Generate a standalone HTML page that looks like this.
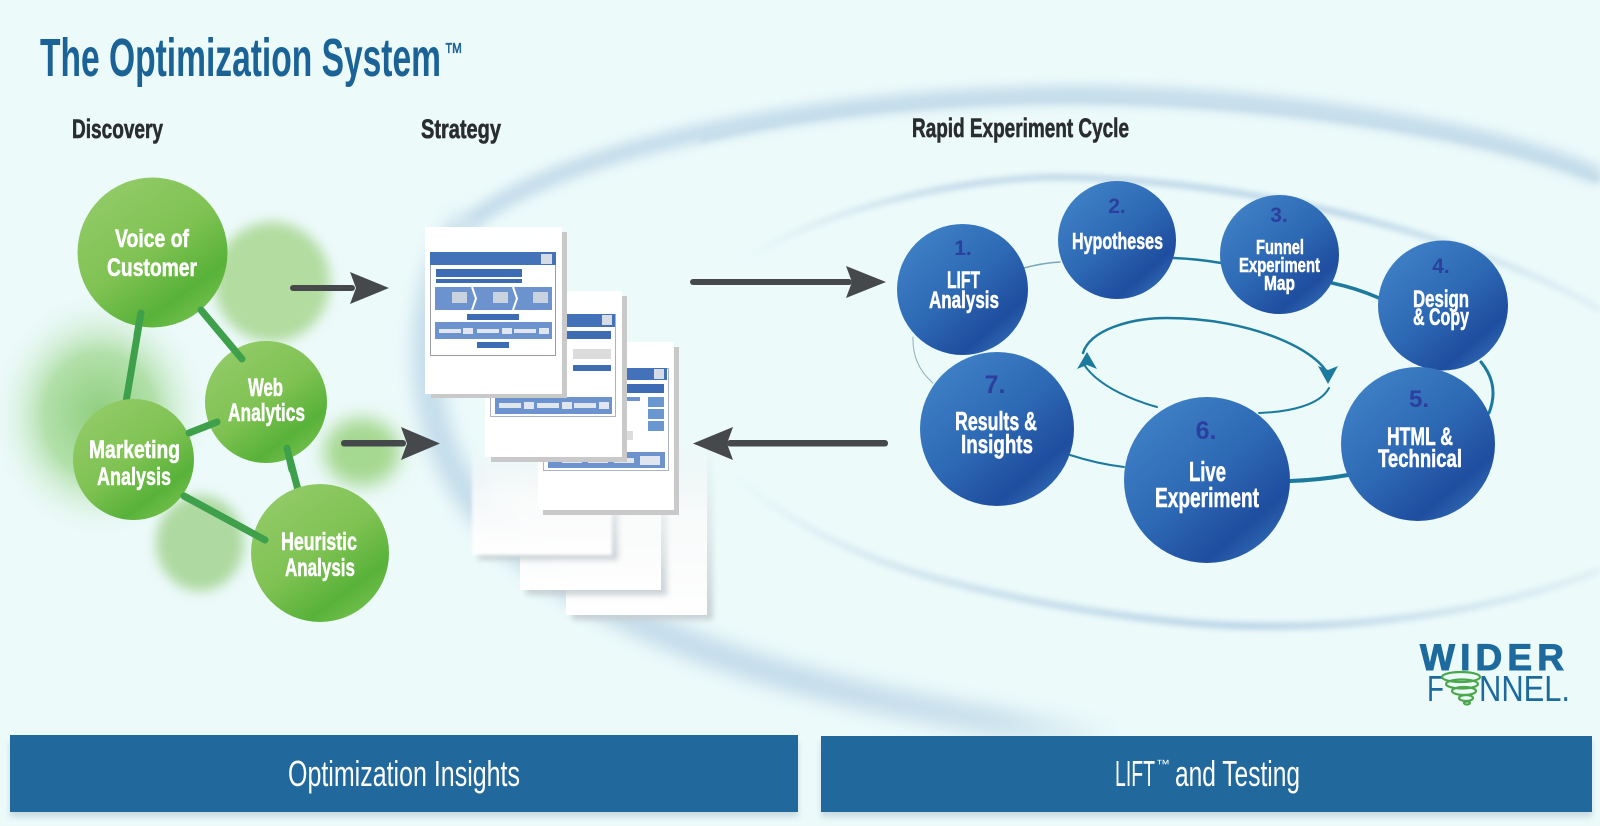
<!DOCTYPE html>
<html><head><meta charset="utf-8"><style>
html,body{margin:0;padding:0;background:#ecfafa;width:1600px;height:826px;overflow:hidden}
svg{display:block}
text{font-family:"Liberation Sans",Arial,sans-serif}
.w{fill:#fff;font-weight:bold;stroke:#fff;stroke-width:.55}
.n{fill:#2b3f9f;font-weight:bold;text-anchor:middle}
.h{fill:#2a2d30;font-weight:bold;font-size:27px;stroke:#2a2d30;stroke-width:.6}
</style></head><body>
<svg width="1600" height="826" viewBox="0 0 1600 826" xmlns="http://www.w3.org/2000/svg">
<defs>
<filter id="b1" x="-20%" y="-20%" width="140%" height="140%"><feGaussianBlur stdDeviation="1.500"/></filter>
<filter id="b3" x="-50%" y="-50%" width="200%" height="200%"><feGaussianBlur stdDeviation="3"/></filter>
<filter id="b6" x="-50%" y="-50%" width="200%" height="200%"><feGaussianBlur stdDeviation="6"/></filter>
<filter id="b9" x="-50%" y="-50%" width="200%" height="200%"><feGaussianBlur stdDeviation="9"/></filter>
<linearGradient id="g" x1=".15" y1=".05" x2=".8" y2=".95"><stop offset="0" stop-color="#93cb68"/><stop offset=".5" stop-color="#7fc253"/><stop offset=".82" stop-color="#58b239"/><stop offset="1" stop-color="#72bf4c"/></linearGradient>
<linearGradient id="bl" x1=".12" y1=".1" x2=".82" y2=".92"><stop offset="0" stop-color="#3f80c6"/><stop offset=".5" stop-color="#2d69b4"/><stop offset=".85" stop-color="#1f4d9f"/><stop offset="1" stop-color="#2d66b0"/></linearGradient>
<radialGradient id="lb"><stop offset="0" stop-color="#8fce7e"/><stop offset=".5" stop-color="#b2e0aa"/><stop offset="1" stop-color="#ecfafa" stop-opacity="0"/></radialGradient>
<linearGradient id="fadeW" x1="0" y1="0" x2="0" y2="1"><stop offset="0" stop-color="#fff" stop-opacity="0"/><stop offset=".45" stop-color="#fff" stop-opacity=".8"/><stop offset="1" stop-color="#fff"/></linearGradient>
<linearGradient id="fadeS" x1="0" y1="0" x2="0" y2="1"><stop offset="0" stop-color="#c4cdd0" stop-opacity="0"/><stop offset=".5" stop-color="#c4cdd0" stop-opacity=".4"/><stop offset="1" stop-color="#c4cdd0" stop-opacity=".9"/></linearGradient>
<linearGradient id="sw1" gradientUnits="userSpaceOnUse" x1="800" y1="0" x2="1120" y2="0"><stop offset="0" stop-color="#c3dbea"/><stop offset=".6" stop-color="#c9e0ec"/><stop offset="1" stop-color="#c9e0ec" stop-opacity="0"/></linearGradient>
<linearGradient id="sw2" gradientUnits="userSpaceOnUse" x1="740" y1="0" x2="1600" y2="0"><stop offset="0" stop-color="#c0d8e8" stop-opacity="0"/><stop offset=".25" stop-color="#c0d8e8"/><stop offset=".7" stop-color="#b8d3e6"/><stop offset="1" stop-color="#c0d8e8" stop-opacity=".3"/></linearGradient>
<linearGradient id="sw3" gradientUnits="userSpaceOnUse" x1="730" y1="0" x2="1600" y2="0"><stop offset="0" stop-color="#c0d8e8" stop-opacity="0"/><stop offset=".3" stop-color="#c8dfeb"/><stop offset=".6" stop-color="#b8d3e6"/><stop offset="1" stop-color="#c0d8e8" stop-opacity=".3"/></linearGradient>
</defs>

<rect width="1600" height="826" fill="#ecfafa"/>
<!-- swooshes -->
<path d="M469 223C420 270 410 400 459 480C510 570 650 640 800 680C880 702 1000 725 1120 738" fill="none" stroke="url(#sw1)" stroke-width="28" filter="url(#b9)"/>
<path d="M1600 177C1500 130 1250 90 1040 95C800 100 560 150 469 223" fill="none" stroke="#c3dbea" stroke-width="17" filter="url(#b6)"/>
<path d="M1600 180C1500 135 1250 97 1040 100C900 103 800 115 700 140" fill="none" stroke="#c3dbe9" stroke-width="5" filter="url(#b3)"/>
<path d="M1600 310C1520 260 1300 180 1055 177C930 180 800 220 740 263" fill="none" stroke="url(#sw2)" stroke-width="6" filter="url(#b3)"/>
<path d="M730 470C780 520 860 560 953 583C1060 610 1180 626 1259 626C1370 628 1500 610 1600 570" fill="none" stroke="url(#sw3)" stroke-width="7" filter="url(#b3)"/>

<!-- green blobs -->
<ellipse cx="100" cy="415" rx="112" ry="125" fill="url(#lb)"/>
<ellipse cx="272" cy="282" rx="58" ry="60" fill="#b2dca0" filter="url(#b6)"/>
<ellipse cx="200" cy="543" rx="44" ry="48" fill="#aed9a0" filter="url(#b6)"/>
<ellipse cx="362" cy="452" rx="38" ry="34" fill="#a5d890" filter="url(#b9)"/>

<!-- green lines -->
<g stroke="#3fa04c" stroke-width="7" stroke-linecap="round" fill="none">
<line x1="141" y1="313" x2="126" y2="402"/>
<line x1="201" y1="310" x2="242" y2="359"/>
<line x1="189" y1="433" x2="217" y2="422"/>
<line x1="287" y1="448" x2="298" y2="490"/>
<line x1="184" y1="496" x2="265" y2="540"/>
</g>
<circle cx="152.500" cy="252.500" r="75" fill="url(#g)"/>
<circle cx="266" cy="402" r="61" fill="url(#g)"/>
<circle cx="133.500" cy="459.500" r="60.500" fill="url(#g)"/>
<circle cx="320" cy="553" r="69" fill="url(#g)"/>
<g stroke="#3fa04c" stroke-width="7" stroke-linecap="round" fill="none">
<line x1="141" y1="313" x2="137" y2="335"/>
<line x1="201" y1="310" x2="242" y2="359"/>
<line x1="189" y1="433" x2="217" y2="422"/>
<line x1="287" y1="448" x2="292" y2="470"/>
<line x1="184" y1="496" x2="265" y2="540"/>
</g>

<!-- ghost documents -->
<g>
<rect x="572" y="440" width="141" height="180" fill="url(#fadeS)" filter="url(#b3)"/>
<rect x="566" y="435" width="141" height="180" fill="url(#fadeW)"/>
<rect x="526" y="470" width="141" height="125" fill="url(#fadeS)" filter="url(#b3)"/>
<rect x="520" y="465" width="141" height="125" fill="url(#fadeW)"/>
<rect x="478" y="450" width="140" height="110" fill="url(#fadeS)" filter="url(#b3)"/>
<rect x="472" y="445" width="140" height="110" fill="url(#fadeW)" filter="url(#b1)"/>
</g>

<!-- doc 3 -->
<rect x="543" y="347" width="136" height="168" fill="#c9c9c9"/>
<rect x="538" y="342" width="136" height="168" fill="#fff"/>
<rect x="543.500" y="368.500" width="125" height="102" fill="none" stroke="#aab4c4"/>
<rect x="545" y="368" width="122" height="12" fill="#4472b8"/>
<rect x="654" y="369" width="10" height="10" fill="#d5dce6"/>
<rect x="550" y="384" width="114" height="9" fill="#3d6cb4"/>
<rect x="550" y="397" width="90" height="4" fill="#6d93cf"/>
<rect x="648" y="397" width="16" height="10" fill="#6a97d0"/>
<rect x="648" y="409" width="16" height="10" fill="#6a97d0"/>
<rect x="648" y="421" width="16" height="10" fill="#6a97d0"/>
<rect x="600" y="421" width="25" height="6" fill="#3d6cb4"/>
<rect x="590" y="431" width="43" height="9" fill="#ddd"/>
<rect x="548" y="452" width="117" height="16" fill="#6d93cf"/>
<rect x="640" y="456" width="20" height="9" fill="#dfe6ef"/><rect x="614" y="458" width="20" height="5" fill="#dfe6ef"/><rect x="588" y="458" width="20" height="5" fill="#dfe6ef"/><rect x="562" y="458" width="20" height="5" fill="#dfe6ef"/>

<!-- doc 2 -->
<rect x="491" y="296" width="136" height="166" fill="#c9c9c9"/>
<rect x="485" y="291" width="137" height="166" fill="#fff"/>
<rect x="490.500" y="314.500" width="125" height="102" fill="none" stroke="#aab4c4"/>
<rect x="492" y="314" width="123" height="13" fill="#4472b8"/>
<rect x="602" y="315" width="10" height="10" fill="#d5dce6"/>
<rect x="495" y="331" width="116" height="8" fill="#3d6cb4"/>
<rect x="495" y="341" width="68" height="3" fill="#3d6cb4"/>
<rect x="573" y="349" width="38" height="10" fill="#dcdcdc"/>
<rect x="573" y="365" width="38" height="6" fill="#3d6cb4"/>
<rect x="550" y="360" width="10" height="15" fill="#6d93cf"/>
<rect x="495" y="397" width="117" height="17" fill="#6d93cf"/>
<rect x="499" y="403" width="22" height="5" fill="#dfe6ef"/><rect x="524" y="402" width="10" height="7" fill="#dfe6ef"/><rect x="537" y="403" width="22" height="5" fill="#dfe6ef"/><rect x="562" y="402" width="10" height="7" fill="#dfe6ef"/><rect x="574" y="403" width="22" height="5" fill="#dfe6ef"/><rect x="599" y="402" width="10" height="7" fill="#dfe6ef"/>

<!-- doc 1 -->
<rect x="431" y="232" width="136" height="166" fill="#c9c9c9"/>
<rect x="425" y="227" width="137" height="167" fill="#fff"/>
<rect x="430.500" y="252.500" width="125" height="103" fill="none" stroke="#9a9fa6"/>
<rect x="430" y="252" width="126" height="13" fill="#4472b8"/>
<rect x="541" y="254" width="11" height="10" fill="#d5dce6"/>
<rect x="436" y="269" width="86" height="8" fill="#3d6cb4"/>
<rect x="436" y="279" width="86" height="4" fill="#3d6cb4"/>
<rect x="435" y="287" width="117" height="23" fill="#6d93cf"/>
<path d="M472 287L476 298.500L472 310M513 287L517 298.500L513 310" fill="none" stroke="#fff" stroke-width="2"/>
<g fill="#c9d3e0"><rect x="452" y="292" width="15" height="11"/><rect x="493" y="292" width="15" height="11"/><rect x="533" y="292" width="15" height="11"/></g>
<rect x="467" y="314" width="52" height="6" fill="#3d6cb4"/>
<rect x="435" y="322" width="117" height="17" fill="#6d93cf"/>
<rect x="439" y="329" width="22" height="4" fill="#dfe6ef"/><rect x="463" y="328" width="10" height="6" fill="#dfe6ef"/><rect x="477" y="329" width="22" height="4" fill="#dfe6ef"/><rect x="502" y="328" width="10" height="6" fill="#dfe6ef"/><rect x="514" y="329" width="22" height="4" fill="#dfe6ef"/><rect x="539" y="328" width="10" height="6" fill="#dfe6ef"/>
<rect x="477" y="342" width="32" height="6" fill="#3d6cb4"/>

<!-- dark arrows -->
<g fill="#45494c">
<rect x="290" y="285" width="65" height="6" rx="3"/><path d="M350 272L389 288L350 304L356 288Z"/>
<rect x="341" y="440" width="65" height="6.500" rx="3"/><path d="M401 427L440 443.500L401 460L407 443.500Z"/>
<rect x="690" y="279" width="162" height="6" rx="3"/><path d="M846 266L886 282L846 298L852 282Z"/>
<rect x="727" y="440" width="161" height="6.500" rx="3"/><path d="M733 427L693 443.500L733 460L727 443.500Z"/>
</g>

<!-- cycle connectors -->
<g fill="none" stroke="#1b7a9e" stroke-linecap="round">
<path d="M1024 268Q1042 263 1060 262" stroke="#7fa6b6" stroke-width="1.500"/>
<path d="M1174 258Q1198 259 1221 263" stroke-width="2.500"/>
<path d="M1332 283Q1356 288 1379 298" stroke-width="3.500"/>
<path d="M1481 362Q1500 385 1489 413" stroke-width="3"/>
<path d="M1290 481Q1320 480 1348 475" stroke-width="4"/>
<path d="M1070 455Q1098 464 1124 467" stroke-width="2"/>
<path d="M913 337Q912 365 933 383" stroke="#8fb0bc" stroke-width="1"/>
<path d="M1083 353C1090 330 1130 318 1167 318C1250 318 1320 350 1329 377" stroke-width="2.500"/>
<path d="M1329 388C1320 405 1290 412 1259 413M1157 407C1125 398 1095 383 1083 363" stroke-width="2"/>
</g>
<path d="M1087 352L1097 369L1087 365L1077 369Z" fill="#1b7a9e"/>
<path d="M1328 384L1318 366L1328 370L1338 366Z" fill="#1b7a9e"/>

<!-- blue circles -->
<circle cx="962.500" cy="289.500" r="65.500" fill="url(#bl)"/>
<circle cx="1117" cy="240" r="59" fill="url(#bl)"/>
<circle cx="1279.500" cy="254.500" r="59.500" fill="url(#bl)"/>
<circle cx="1443" cy="305.500" r="65" fill="url(#bl)"/>
<circle cx="1418" cy="444" r="77" fill="url(#bl)"/>
<circle cx="997" cy="429" r="77" fill="url(#bl)"/>
<circle cx="1207" cy="480" r="83" fill="url(#bl)"/>

<!-- numbers -->
<text class="n" x="963" y="255" font-size="21">1.</text>
<text class="n" x="1117" y="213" font-size="21">2.</text>
<text class="n" x="1279" y="222" font-size="21">3.</text>
<text class="n" x="1441" y="273" font-size="21">4.</text>
<text class="n" x="1419" y="407" font-size="24">5.</text>
<text class="n" x="1206" y="439" font-size="25">6.</text>
<text class="n" x="995" y="393" font-size="25">7.</text>

<!-- title + headings -->
<text x="40" y="76" font-size="54" font-weight="bold" fill="#1b6296" textLength="401" lengthAdjust="spacingAndGlyphs">The Optimization System</text>
<text x="444" y="61" font-size="26" fill="#1b6296" stroke="#1b6296" stroke-width=".4" textLength="19" lengthAdjust="spacingAndGlyphs">™</text>
<text class="h" x="72" y="138" textLength="91" lengthAdjust="spacingAndGlyphs">Discovery</text>
<text class="h" x="421" y="138" textLength="80" lengthAdjust="spacingAndGlyphs">Strategy</text>
<text class="h" x="912" y="137" textLength="217" lengthAdjust="spacingAndGlyphs">Rapid Experiment Cycle</text>

<!-- green labels -->
<g font-size="25">
<text class="w" x="115" y="247" textLength="74" lengthAdjust="spacingAndGlyphs">Voice of</text>
<text class="w" x="107" y="276" textLength="90" lengthAdjust="spacingAndGlyphs">Customer</text>
<text class="w" x="248" y="396" textLength="35" lengthAdjust="spacingAndGlyphs">Web</text>
<text class="w" x="228" y="421" textLength="77" lengthAdjust="spacingAndGlyphs">Analytics</text>
<text class="w" x="89" y="458" textLength="91" lengthAdjust="spacingAndGlyphs">Marketing</text>
<text class="w" x="97" y="485" textLength="74" lengthAdjust="spacingAndGlyphs">Analysis</text>
<text class="w" x="281" y="550" textLength="76" lengthAdjust="spacingAndGlyphs">Heuristic</text>
<text class="w" x="285" y="576" textLength="70" lengthAdjust="spacingAndGlyphs">Analysis</text>
</g>

<!-- blue labels -->
<g font-size="24">
<text class="w" x="947" y="288" textLength="33" lengthAdjust="spacingAndGlyphs">LIFT</text>
<text class="w" x="929" y="308" textLength="70" lengthAdjust="spacingAndGlyphs">Analysis</text>
<text class="w" x="1072" y="249" font-size="23" textLength="91" lengthAdjust="spacingAndGlyphs">Hypotheses</text>
<text class="w" x="1256" y="254" font-size="20" textLength="48" lengthAdjust="spacingAndGlyphs">Funnel</text>
<text class="w" x="1239" y="272" font-size="20" textLength="81" lengthAdjust="spacingAndGlyphs">Experiment</text>
<text class="w" x="1264" y="290" font-size="20" textLength="31" lengthAdjust="spacingAndGlyphs">Map</text>
<text class="w" x="1413" y="307" textLength="56" lengthAdjust="spacingAndGlyphs">Design</text>
<text class="w" x="1413" y="325" textLength="56" lengthAdjust="spacingAndGlyphs">&amp; Copy</text>
<text class="w" x="1387" y="445" font-size="25" textLength="66" lengthAdjust="spacingAndGlyphs">HTML &amp;</text>
<text class="w" x="1378" y="467" font-size="25" textLength="84" lengthAdjust="spacingAndGlyphs">Technical</text>
<text class="w" x="1189" y="481" font-size="28" textLength="37" lengthAdjust="spacingAndGlyphs">Live</text>
<text class="w" x="1155" y="507" font-size="28" textLength="104" lengthAdjust="spacingAndGlyphs">Experiment</text>
<text class="w" x="955" y="430" font-size="26" textLength="82" lengthAdjust="spacingAndGlyphs">Results &amp;</text>
<text class="w" x="961" y="453" font-size="26" textLength="72" lengthAdjust="spacingAndGlyphs">Insights</text>
</g>

<!-- logo -->
<text x="1420" y="670" font-size="37" font-weight="bold" fill="#1d6a9e" stroke="#1d6a9e" stroke-width="1" textLength="144" lengthAdjust="spacing">WIDER</text>
<text x="1427" y="701" font-size="36" fill="#1d6a9e" textLength="17" lengthAdjust="spacingAndGlyphs">F</text>
<text x="1479" y="701" font-size="36" fill="#1d6a9e" textLength="91" lengthAdjust="spacingAndGlyphs">NNEL.</text>
<g fill="none" stroke="#4aa84a" stroke-width="2.200">
<ellipse cx="1461" cy="677" rx="19" ry="5"/>
<ellipse cx="1462" cy="684" rx="16" ry="4.500"/>
<ellipse cx="1464" cy="691" rx="12" ry="4"/>
<ellipse cx="1466" cy="698" rx="7" ry="3"/>
<ellipse cx="1467" cy="703" rx="3" ry="1.500"/>
</g>

<!-- bars -->
<rect x="10" y="741" width="788" height="76" fill="#9db7c6" opacity=".45" filter="url(#b3)"/>
<rect x="821" y="741" width="771" height="76" fill="#9db7c6" opacity=".45" filter="url(#b3)"/>
<rect x="10" y="735" width="788" height="77" fill="#21689c"/>
<rect x="821" y="736" width="771" height="76" fill="#21689c"/>
<text x="288" y="786" font-size="36" fill="#fff" textLength="232" lengthAdjust="spacingAndGlyphs">Optimization Insights</text>
<text x="1115" y="786" font-size="36" fill="#fff" textLength="40" lengthAdjust="spacingAndGlyphs">LIFT</text>
<text x="1156" y="768" font-size="12" fill="#fff" textLength="14" lengthAdjust="spacingAndGlyphs">™</text>
<text x="1175" y="786" font-size="36" fill="#fff" textLength="125" lengthAdjust="spacingAndGlyphs">and Testing</text>
</svg>
</body></html>
